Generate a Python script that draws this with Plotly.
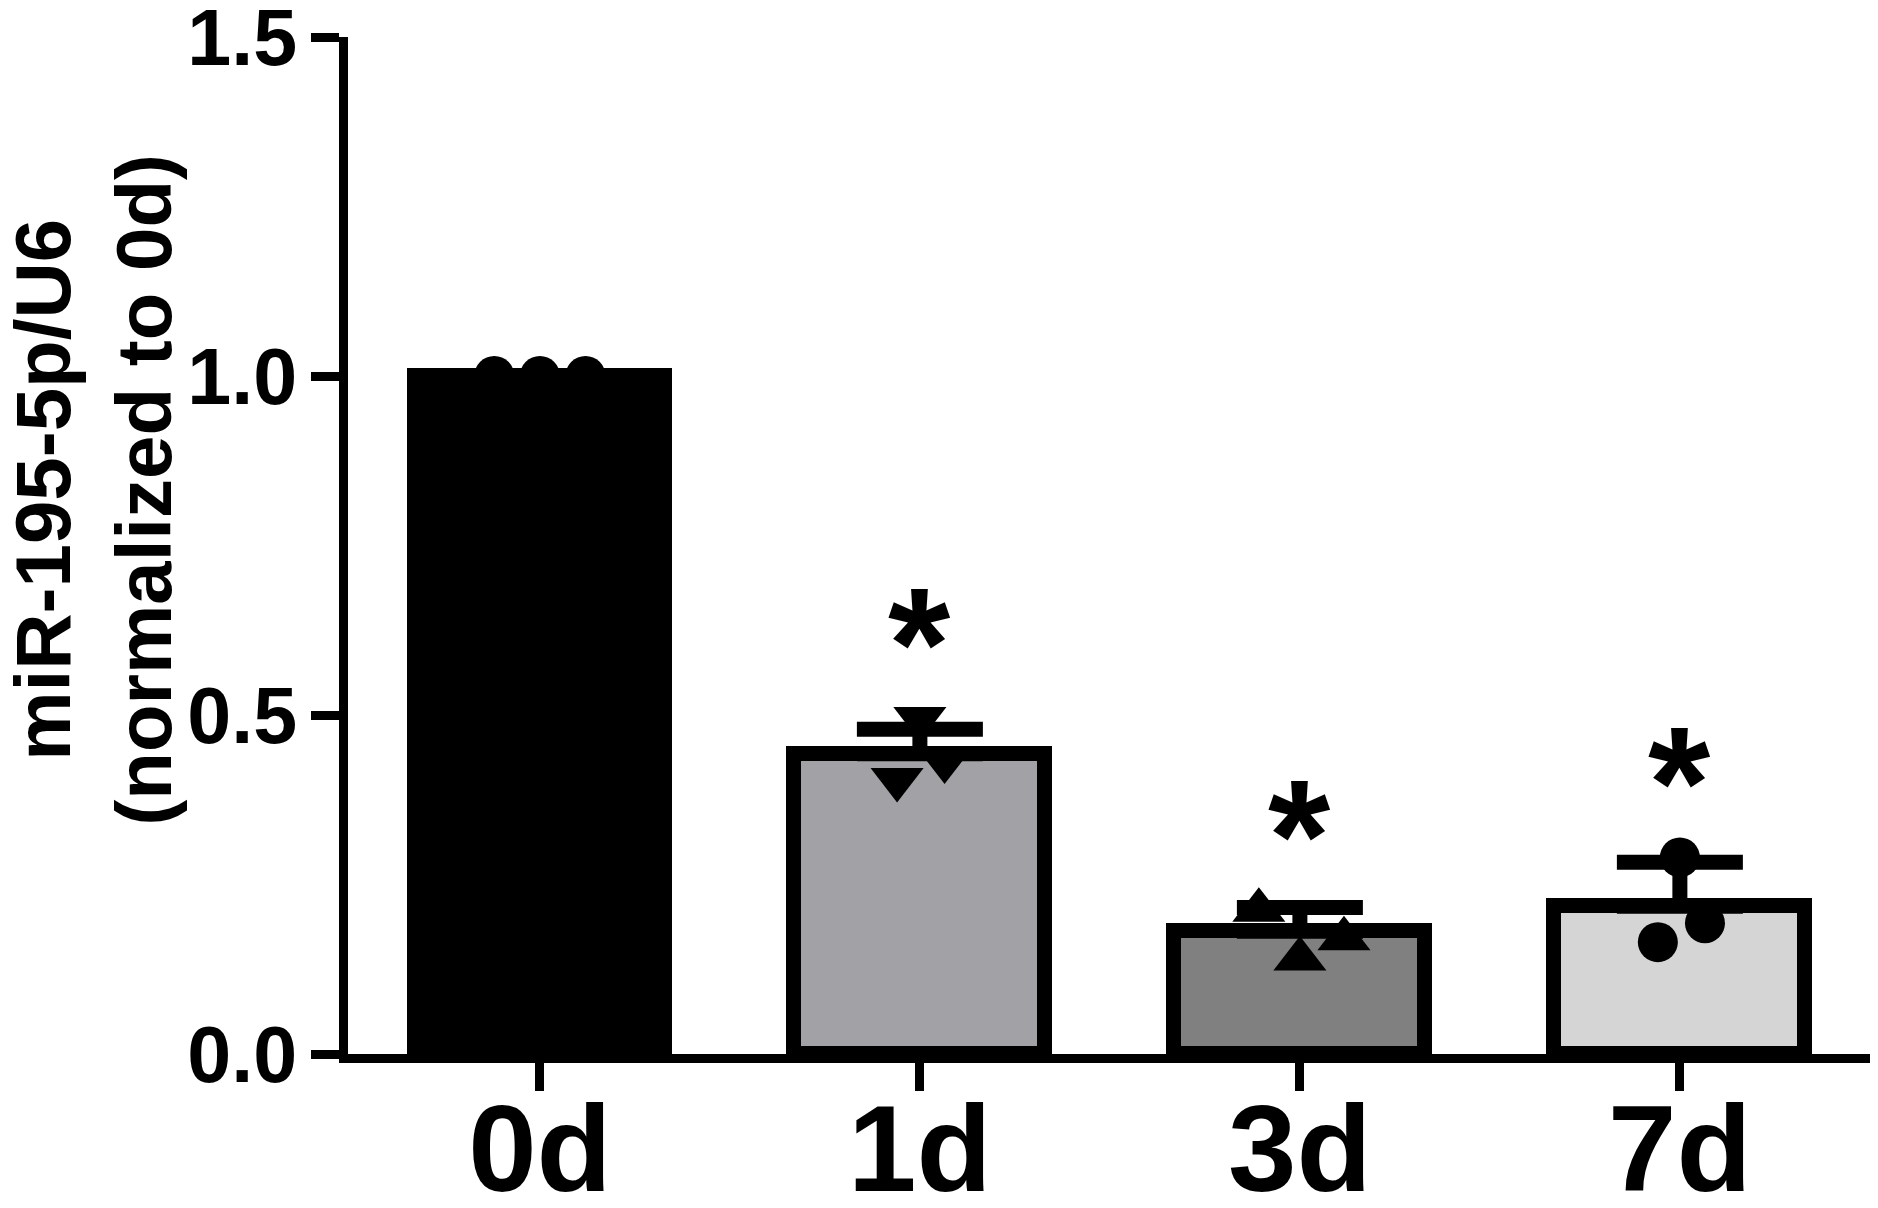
import plotly.graph_objects as go

categories = ["0d", "1d", "3d", "7d"]
means = [1.0, 0.443, 0.181, 0.218]
sds = [0.0, 0.036, 0.035, 0.065]
points = [
    [1.0, 1.0, 1.0],
    [0.405, 0.495, 0.432],
    [0.212, 0.140, 0.170],
    [0.165, 0.290, 0.193],
]
stars = ["", "*", "*", "*"]

# styling
bar_colors = ["#000000", "#a2a2a6", "#808080", "#d5d5d5"]
symbols = ["circle", "triangle-down", "triangle-up", "circle"]
sizes = [40, 46, 46, 40]
jitter = [[-0.12, 0, 0.12], [-0.06, 0, 0.065], [-0.108, 0, 0.116], [-0.058, 0, 0.066]]
FONT = "Liberation Sans, Arial, sans-serif"
NARROW = "Liberation Sans Narrow, Arial Narrow, Liberation Sans, sans-serif"

fig = go.Figure()

fig.add_trace(
    go.Bar(
        x=list(range(len(categories))),
        y=means,
        width=0.66,
        marker=dict(color=bar_colors, line=dict(color="black", width=15)),
        error_y=dict(
            type="data",
            symmetric=False,
            array=sds,
            arrayminus=[0] * len(sds),
            color="black",
            thickness=15,
            width=63,
        ),
        showlegend=False,
    )
)

for i, vals in enumerate(points):
    fig.add_trace(
        go.Scatter(
            x=[i + j for j in jitter[i]],
            y=vals,
            mode="markers",
            marker=dict(symbol=symbols[i], size=sizes[i], color="black", line=dict(width=0)),
            showlegend=False,
        )
    )

# significance marks sit a fixed step above the highest point of each group
for i, s in enumerate(stars):
    if s:
        fig.add_annotation(
            x=i,
            y=max(points[i]) + 0.11,
            text=s,
            showarrow=False,
            font=dict(family=FONT, size=160, color="black", weight="bold"),
            yanchor="middle",
        )

fig.add_annotation(
    xref="paper",
    yref="paper",
    x=-0.1665,
    y=0.555,
    text="miR-195-5p/U6<br>(normalized to 0d)",
    textangle=-90,
    showarrow=False,
    xanchor="center",
    yanchor="middle",
    font=dict(family=FONT, size=78, color="black", weight="bold"),
)

fig.update_xaxes(
    range=[-0.505, 3.524],
    tickvals=list(range(len(categories))),
    ticktext=categories,
    showline=True,
    linewidth=9,
    linecolor="black",
    ticks="outside",
    ticklen=28,
    tickwidth=9,
    tickcolor="black",
    showgrid=False,
    zeroline=False,
    automargin=False,
    ticklabelstandoff=-48,
    ticklabeloverflow="allow",
    tickfont=dict(family=NARROW, size=123, color="black", weight="bold"),
)
fig.update_yaxes(
    range=[0, 1.5],
    tickvals=[0, 0.5, 1.0, 1.5],
    tickformat=".1f",
    showline=True,
    linewidth=9,
    linecolor="black",
    ticks="outside",
    ticklen=28,
    tickwidth=9,
    tickcolor="black",
    showgrid=False,
    zeroline=False,
    automargin=False,
    ticklabelstandoff=-2,
    ticklabeloverflow="allow",
    tickfont=dict(family=FONT, size=79, color="black", weight="bold"),
)

fig.update_layout(
    width=1878,
    height=1208,
    margin=dict(l=340, r=7, t=29, b=162),
    plot_bgcolor="white",
    paper_bgcolor="white",
    bargap=0,
)

fig.write_html("out.html")
